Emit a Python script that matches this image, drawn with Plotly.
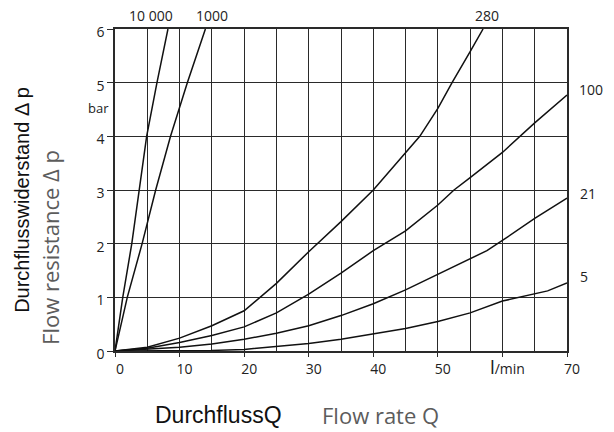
import plotly.graph_objects as go

# ---- data ----
q_10000 = [0, 1.2, 2.6, 3.7, 4.9, 6.5, 8.2]
p_10000 = [0, 1.0, 2.0, 3.0, 4.0, 5.0, 6.0]

q_1000 = [0, 1.9, 4.2, 6.3, 8.6, 11.2, 14.0]
p_1000 = [0, 1.0, 2.0, 3.0, 4.0, 5.0, 6.0]

q_280 = [0, 5, 10, 15, 20, 25, 30, 35, 40, 47.2, 50, 52.2, 55, 57.0]
p_280 = [0, 0.07, 0.24, 0.47, 0.75, 1.26, 1.85, 2.41, 3.0, 4.0, 4.52, 5.0, 5.58, 6.0]

q_100 = [0, 5, 10, 15, 20, 25, 30, 35, 40, 45, 50, 52.5, 55, 60, 65, 70]
p_100 = [0, 0.05, 0.16, 0.29, 0.45, 0.71, 1.06, 1.45, 1.87, 2.24, 2.72, 3.0, 3.23, 3.70, 4.25, 4.77]

q_21 = [0, 5, 10, 15, 20, 25, 30, 35, 40, 45, 50, 55, 57.6, 60, 65, 70]
p_21 = [0, 0.03, 0.07, 0.13, 0.22, 0.33, 0.47, 0.66, 0.88, 1.14, 1.43, 1.73, 1.87, 2.06, 2.47, 2.85]

q_5 = [0, 10, 15, 20, 25, 30, 35, 40, 45, 50, 55, 60, 65, 67, 70]
p_5 = [0, 0.0, 0.01, 0.03, 0.08, 0.14, 0.22, 0.32, 0.42, 0.55, 0.71, 0.93, 1.07, 1.12, 1.27]

series_labels = ["10 000", "1000", "280", "100", "21", "5"]

x_tickvals = [0, 10, 20, 30, 40, 50, 60, 70]
x_ticktext = ["0", "10", "20", "30", "40", "50",
              "<span style='font-size:19px'>l</span>/min", "70"]
y_tickvals = [0, 1, 2, 3, 4, 5, 6]
y_ticktext = ["0", "1", "2", "3", "4", "5", "6"]

GRID = "#2a2a2a"
GRAY = "#5c5c5c"
TICKFONT = dict(family="Open Sans", size=14, color="#222")

fig = go.Figure()
for qs, ps in [(q_10000, p_10000), (q_1000, p_1000), (q_280, p_280),
               (q_100, p_100), (q_21, p_21), (q_5, p_5)]:
    fig.add_trace(go.Scatter(x=qs, y=ps, mode="lines",
                             line=dict(color="#111", width=1.5),
                             showlegend=False, hoverinfo="skip"))

fig.update_xaxes(range=[0, 70], tickvals=x_tickvals, ticktext=x_ticktext,
                 showgrid=True, gridcolor=GRID, gridwidth=1.4,
                 minor=dict(dtick=5, tick0=0, showgrid=True, gridcolor=GRID, gridwidth=1.4),
                 ticks="outside", ticklen=4, tickcolor=GRID, tickwidth=1.4,
                 showline=True, linecolor=GRID, linewidth=1.6, mirror=True,
                 zeroline=False, tickfont=TICKFONT, ticklabelshift=5,
                 fixedrange=True)
fig.update_yaxes(range=[0, 6], tickvals=y_tickvals, ticktext=y_ticktext,
                 showgrid=True, gridcolor=GRID, gridwidth=1.4,
                 ticks="outside", ticklen=6, tickcolor=GRID, tickwidth=1.4,
                 showline=True, linecolor=GRID, linewidth=1.6, mirror=True,
                 zeroline=False, tickfont=TICKFONT, ticklabelshift=3,
                 fixedrange=True)

ann_font = dict(family="Open Sans", size=14, color="#222")
# label positions in plot-area (paper) fractions
label_pos = [(0.080, 1.043), (0.215, 1.043), (0.823, 1.043),
             (1.053, 0.811), (1.046, 0.488), (1.038, 0.230)]
for text, (x, y) in zip(series_labels, label_pos):
    fig.add_annotation(x=x, y=y, xref="paper", yref="paper", text=text, showarrow=False,
                       font=ann_font, xanchor="center", yanchor="middle")

fig.add_annotation(x=0, y=4.53, xref="x", yref="y", text="bar", showarrow=False,
                   font=dict(family="Open Sans", size=13, color="#222"),
                   xanchor="right", yanchor="middle", xshift=-4)

fig.add_annotation(x=-0.206, y=0.469, xref="paper", yref="paper",
                   text="Durchflusswiderstand Δ p", textangle=-90, showarrow=False,
                   xanchor="center", yanchor="middle",
                   font=dict(family="Liberation Sans", size=20, color="#111"))
fig.add_annotation(x=-0.144, y=0.323, xref="paper", yref="paper",
                   text="Flow resistance Δ p", textangle=-90, showarrow=False,
                   xanchor="center", yanchor="middle",
                   font=dict(family="Open Sans", size=22, color=GRAY))
fig.add_annotation(x=0.228, y=-0.199, xref="paper", yref="paper",
                   text="DurchflussQ", showarrow=False,
                   xanchor="center", yanchor="middle",
                   font=dict(family="Liberation Sans", size=23, color="#111"))
fig.add_annotation(x=0.588, y=-0.199, xref="paper", yref="paper",
                   text="Flow rate Q", showarrow=False,
                   xanchor="center", yanchor="middle",
                   font=dict(family="Open Sans", size=22, color=GRAY))

# the page body adds an 8 px offset; margins compensate so the plot area sits
# at the same screen pixels as the reference
fig.update_layout(width=614, height=432,
                  margin=dict(l=107, r=55, t=21, b=89),
                  paper_bgcolor="white", plot_bgcolor="white")

fig.write_html("out.html")
